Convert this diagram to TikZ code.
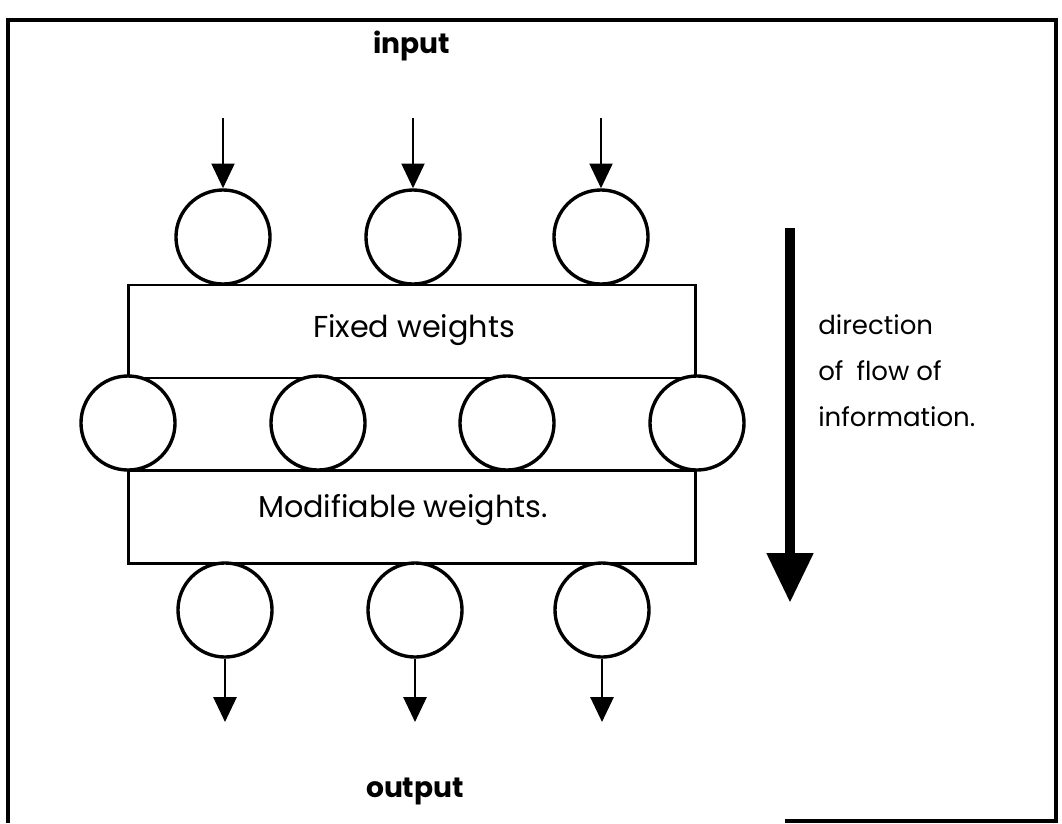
\documentclass[tikz,border=0pt]{standalone}
\usepackage{fontspec}
\setmainfont{Poppins}
\usetikzlibrary{arrows.meta,positioning,calc}
\tikzset{
  unit/.style={draw, circle, line width=2.4pt, fill=white, minimum size=2.35cm, inner sep=0pt},
  wbox/.style={draw, rectangle, line width=2.1pt, minimum width=14.15cm, minimum height=2.325cm, inner sep=0pt},
  wlabel/.style={font=\fontsize{21.5}{26}\selectfont, inner sep=0pt, anchor=base},
  iolabel/.style={font=\fontsize{20}{24}\selectfont\bfseries, inner sep=0pt, anchor=base},
  flowlbl/.style={font=\fontsize{18.5}{32.7}\selectfont, inner sep=0pt, align=left},
  sig/.style={line width=2.1pt, -{Triangle[length=0.62cm, width=0.57cm]}},
}
\begin{document}
\begin{tikzpicture}[x=0.025cm, y=-0.025cm]
  \useasboundingbox (0,0) rectangle (1062,823);
  % frame
  \draw[line width=3pt] (785,821) -- (1056,821) -- (1056,20) -- (8,20) -- (8,823);
  % weight layers
  \node[wbox] (fixed) at (412,331.5) {};
  \node[wbox, minimum height=2.3cm] (band) at (412,424) {};
  \node[wbox] (modif) at (412,516.5) {};
  \node[wlabel] (fixedlbl) at (414,337) {Fixed weights};
  \node[wlabel] (modiflbl) at (403,517) {Modifiable weights.};
  % input layer
  \foreach \i/\x in {1/223,2/413,3/601} {
    \node[unit] (in\i) at (\x,237) {};
    \coordinate (src\i) at (\x,118);
    \draw[sig] (src\i) -- (in\i);
  }
  % hidden layer
  \foreach \i/\x in {1/128,2/318,3/507,4/697}
    \node[unit] (hid\i) at (\x,423) {};
  % output layer
  \foreach \i/\x in {1/225,2/415,3/602} {
    \node[unit] (out\i) at (\x,610) {};
    \coordinate (dst\i) at (\x,722);
    \draw[sig] (out\i) -- (dst\i);
  }
  \node[iolabel] (inlbl) at (412,53) {input};
  \node[iolabel] (outlbl) at (415,797) {output};
  % flow direction
  \coordinate (flowtop) at (790,228);
  \coordinate (flowend) at (790,603);
  \draw[line width=7.8pt, -{Triangle[length=1.25cm, width=1.1cm]}] (flowtop) -- (flowend);
  \node[flowlbl, anchor=north west] (flowtxt) at (818,314) {direction\\of\enspace flow of\\information.};
\end{tikzpicture}
\end{document}
